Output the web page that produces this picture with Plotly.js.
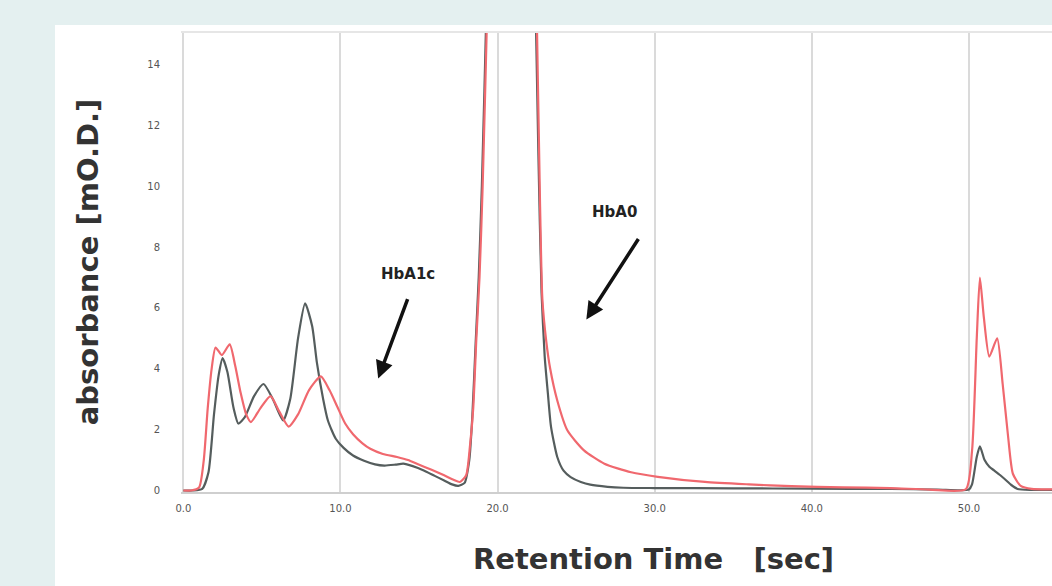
<!DOCTYPE html>
<html>
<head>
<meta charset="utf-8">
<script src="https://cdn.plot.ly/plotly-3.0.1.min.js"></script>
<style>
  html, body { margin: 0; padding: 0; width: 1052px; height: 586px; overflow: hidden; background: #e4f0f0; }
  #chart { position: absolute; left: 55px; top: 25px; width: 1071px; height: 561px; }
</style>
</head>
<body>
<div id="chart"></div>
<script>
// ---- data ----
const timeGray = [0.0, 0.6, 1.2, 1.6, 1.95, 2.25, 2.5, 2.8, 3.2, 3.5, 3.9, 4.5, 5.1, 5.7, 6.35, 6.8, 7.3, 7.75, 8.2, 8.5, 8.9, 9.2, 9.7, 10.2, 10.8, 11.5, 12.2, 12.8, 13.5, 14.0, 14.6, 15.3, 16.0, 16.6, 17.1, 17.5, 17.9, 18.2, 18.4, 18.6, 18.8, 19.0, 19.3, 19.7, 20.3, 20.9, 21.5, 22.0, 22.35, 22.6, 22.8, 23.0, 23.2, 23.4, 23.8, 24.2, 24.65, 25.3, 25.9, 27.0, 28.0, 30.0, 35.0, 40.0, 45.0, 48.0, 50.0, 50.2, 50.5, 50.7, 51.0, 51.3, 51.6, 52.0, 52.4, 52.7, 53.1, 54.0, 56.0];
const absGray  = [0.0, 0.0, 0.05, 0.6, 2.5, 3.8, 4.35, 3.9, 2.7, 2.2, 2.4, 3.1, 3.5, 3.0, 2.3, 3.0, 5.0, 6.15, 5.4, 4.2, 3.0, 2.3, 1.7, 1.4, 1.15, 0.98, 0.86, 0.82, 0.85, 0.88, 0.8, 0.66, 0.48, 0.33, 0.2, 0.15, 0.25, 1.0, 2.5, 4.8, 7.0, 10, 16, 26, 40, 46, 40, 28, 18, 11, 6.5, 4.4, 3.2, 2.1, 1.1, 0.65, 0.44, 0.28, 0.19, 0.12, 0.09, 0.08, 0.07, 0.06, 0.05, 0.03, 0.03, 0.2, 1.1, 1.45, 1.0, 0.78, 0.66, 0.5, 0.32, 0.18, 0.05, 0.02, 0.02];

const timeRed = [0.0, 0.5, 1.0, 1.3, 1.55, 1.8, 2.05, 2.45, 2.95, 3.3, 3.65, 4.0, 4.3, 4.9, 5.55, 6.1, 6.7, 7.3, 8.0, 8.75, 9.3, 9.8, 10.3, 10.8, 11.4, 11.9, 12.7, 13.6, 14.3, 14.9, 15.8, 16.6, 17.2, 17.6, 18.0, 18.25, 18.45, 18.65, 18.85, 19.05, 19.35, 19.8, 20.4, 21.0, 21.6, 22.1, 22.45, 22.7, 22.85, 23.1, 23.35, 23.8, 24.45, 25.5, 26.8, 28.5, 30.2, 33.2, 36.0, 38.7, 42.0, 45.0, 47.5, 49.8, 50.2, 50.5, 50.7, 50.95, 51.3, 51.8, 52.15, 52.5, 52.8, 53.3, 54.0, 56.0];
const absRed  = [0.0, 0.0, 0.1, 1.0, 2.7, 4.0, 4.7, 4.45, 4.8, 4.1, 3.2, 2.5, 2.25, 2.7, 3.1, 2.6, 2.1, 2.5, 3.3, 3.75, 3.3, 2.75, 2.2, 1.85, 1.55, 1.37, 1.2, 1.1, 1.0, 0.87, 0.68, 0.5, 0.35, 0.28, 0.5, 1.5, 2.7, 5.0, 7.0, 10, 16, 26, 40, 46, 40, 28, 17, 9.5, 6.3, 4.9, 4.0, 2.96, 1.97, 1.32, 0.88, 0.6, 0.45, 0.28, 0.2, 0.14, 0.1, 0.08, 0.03, 0.04, 1.3, 5.0, 7.0, 5.7, 4.4, 5.0, 3.5, 1.75, 0.55, 0.15, 0.05, 0.04];

const xTicks = [0, 10, 20, 30, 40, 50, 60];
const yTicks = [0, 2, 4, 6, 8, 10, 12, 14];
const xTitle = 'Retention Time\u00a0\u00a0\u00a0[sec]';
const yTitle = 'absorbance [mO.D.]';
const peakLabels = ['HbA1c', 'HbA0'];
const labelPos = [[14.3, 7.13], [27.45, 9.14]];
const arrowHeads = [[12.4, 3.68], [25.65, 5.62]];

const traces = [
  { x: timeGray, y: absGray, type: 'scatter', mode: 'lines', name: 'sample A',
    line: { color: '#555d5d', width: 2.2, shape: 'spline', smoothing: 0.6 } },
  { x: timeRed, y: absRed, type: 'scatter', mode: 'lines', name: 'sample B',
    line: { color: '#f0686e', width: 2.2, shape: 'spline', smoothing: 0.6 } }
];

const annotations = [];
peakLabels.forEach((t, i) => {
  annotations.push({ x: labelPos[i][0], y: labelPos[i][1], xref: 'x', yref: 'y', text: '<b>' + t + '</b>',
    showarrow: false, font: { family: 'DejaVu Sans', size: 15, color: '#222' } });
  annotations.push({ x: arrowHeads[i][0], y: arrowHeads[i][1], xref: 'x', yref: 'y', text: '',
    showarrow: true, arrowhead: 2, arrowsize: 1, arrowwidth: 3.5, arrowcolor: '#111',
    ax: i === 0 ? 30 : 53, ay: i === 0 ? -81 : -82 });
});

const layout = {
  width: 1071, height: 561,
  margin: { l: 126, r: 0, t: 7, b: 94 },
  paper_bgcolor: '#ffffff', plot_bgcolor: '#ffffff',
  showlegend: false,
  font: { family: 'DejaVu Sans', color: '#444' },
  xaxis: {
    range: [-0.15, 60], tickvals: xTicks, tickformat: '.1f',
    showgrid: true, gridcolor: '#dadada', gridwidth: 2, zeroline: false,
    showline: true, linecolor: '#cfcfcf', linewidth: 2,
    ticks: 'outside', ticklen: 6, tickcolor: 'rgba(0,0,0,0)',
    tickfont: { size: 10, color: '#555' },
    title: { text: '<b>' + xTitle + '</b>', standoff: 36, font: { family: 'DejaVu Sans', size: 29, color: '#333' } }
  },
  yaxis: {
    range: [-0.05, 15.07], tickvals: yTicks,
    showgrid: false, zeroline: false, showline: false,
    ticks: 'outside', ticklen: 18, tickcolor: 'rgba(0,0,0,0)',
    tickfont: { size: 10, color: '#555' },
    title: { text: '<b>' + yTitle + '</b>', standoff: 40, font: { family: 'DejaVu Sans', size: 29, color: '#333' } }
  },
  shapes: [
    { type: 'line', xref: 'paper', yref: 'paper', x0: 0, x1: 1, y0: 1, y1: 1, line: { color: '#e6e6e6', width: 2 } }
  ],
  annotations: annotations
};

Plotly.newPlot('chart', traces, layout, { displayModeBar: false, staticPlot: true });
</script>
</body>
</html>
